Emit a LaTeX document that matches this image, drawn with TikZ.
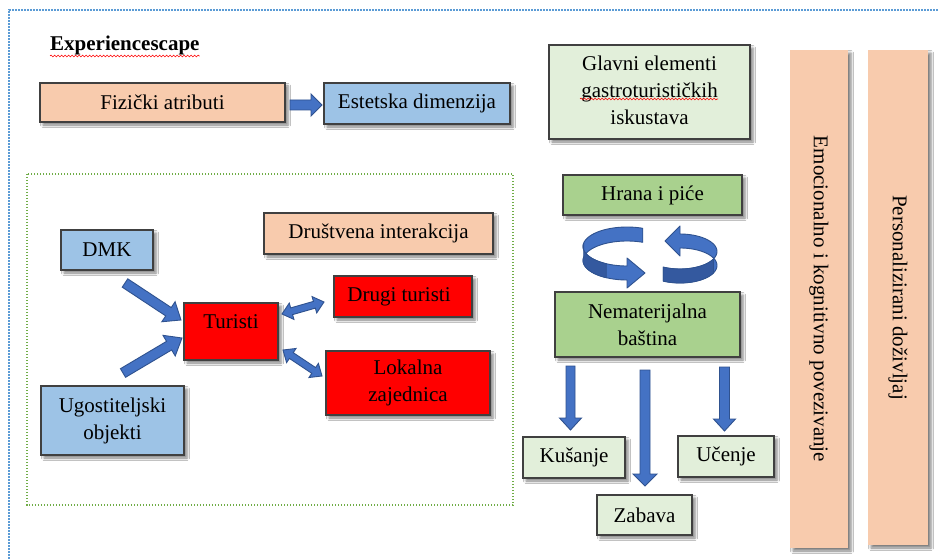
\documentclass[tikz,border=0pt]{standalone}
\usepackage{fontspec}
\setmainfont{Liberation Serif}
\usetikzlibrary{calc,shadows.blur,decorations.pathmorphing}

\definecolor{peach}{HTML}{F8CBAD}
\definecolor{lblue}{HTML}{9DC3E6}
\definecolor{lgreen}{HTML}{E2EFDA}
\definecolor{mgreen}{HTML}{A9D18E}
\definecolor{arrfill}{HTML}{4472C4}
\definecolor{arrline}{HTML}{2F528F}
\definecolor{arrdark}{HTML}{34599F}
\definecolor{boxline}{HTML}{404040}
\definecolor{frameblue}{HTML}{5B9BD5}
\definecolor{framegreen}{HTML}{70AD47}

% block arrow: start, end, shaft half width, head half width, head length
\newcommand\blockarrow[5]{%
  \coordinate (ba-h) at ($(#2)!#5!(#1)$);
  \filldraw[blockarr] ($(#1)!#3!90:(#2)$) -- ($(ba-h)!#3!90:(#2)$) -- ($(ba-h)!#4!90:(#2)$) -- (#2)
    -- ($(ba-h)!#4!-90:(#2)$) -- ($(ba-h)!#3!-90:(#2)$) -- ($(#1)!#3!-90:(#2)$) -- cycle;}
% double block arrow
\newcommand\dblarrow[5]{%
  \coordinate (da-a) at ($(#1)!#5!(#2)$);
  \coordinate (da-b) at ($(#2)!#5!(#1)$);
  \filldraw[blockarr] (#1) -- ($(da-a)!#4!90:(#2)$) -- ($(da-a)!#3!90:(#2)$) -- ($(da-b)!#3!-90:(#1)$)
    -- ($(da-b)!#4!-90:(#1)$) -- (#2) -- ($(da-b)!#4!90:(#1)$) -- ($(da-b)!#3!90:(#1)$)
    -- ($(da-a)!#3!-90:(#2)$) -- ($(da-a)!#4!-90:(#2)$) -- cycle;}

\tikzset{
  fs/.style={font=\rmfamily\fontsize{21}{27}\selectfont},
  base/.style={fs, draw=boxline, line width=1.1pt, inner sep=0pt, align=center,
    blur shadow={shadow xshift=3pt, shadow yshift=-3pt, shadow blur radius=2.5pt, shadow opacity=50}},
  sz/.style 2 args={minimum width=#1pt, minimum height=#2pt},
  peachbox/.style={base, fill=peach},
  bluebox/.style={base, fill=lblue},
  lgreenbox/.style={base, fill=lgreen},
  mgreenbox/.style={base, fill=mgreen},
  redbox/.style={base, fill=red},
  barbox/.style={base, draw=none, fill=peach},
  blockarr/.style={fill=arrfill, draw=arrline, line width=0.9pt, line join=miter},
  ribbon/.style={fill=arrfill, draw=arrline, line width=0.9pt, line join=round},
  ribbondark/.style={fill=arrdark, draw=arrline, line width=0.7pt, line join=round},
  spell/.style={draw=red, line width=0.6pt, decorate, decoration={snake, amplitude=0.9pt, segment length=3.5pt}},
  frameb/.style={draw=frameblue, line width=1.6pt, dash pattern=on 1.6pt off 1.4pt},
  frameg/.style={draw=framegreen, line width=1.4pt, dash pattern=on 1.4pt off 1.6pt},
}

\begin{document}
\begin{tikzpicture}[x=1pt, y=-1pt]
\useasboundingbox (0,0) rectangle (938,559);
\fill[white] (0,0) rectangle (938,559);

% frames
\draw[frameb] (9,559) -- (9,10) -- (938,10);
\draw[frameg] (27,174) rectangle (513,505);

% title
\node[font=\rmfamily\fontsize{21}{27}\selectfont\bfseries, inner sep=0pt, anchor=base west] (title) at (50,51) {Experiencescape};
\draw[spell] ($(title.base west)+(0,5)$) -- ($(title.base east)+(0,5)$);

% top row
\node[peachbox, sz={245}{39}] (fiz) at (162.5,102.5) {Fizički atributi};
\node[bluebox, sz={186}{41}] (est) at (417,103.5) {Estetska dimenzija};
\node[lgreenbox, sz={201}{94}] (glavni) at (649.5,92) {Glavni elementi\\gastroturističkih\\iskustava\rule[-4pt]{0pt}{1pt}};
\coordinate (sp1) at (580,99);
\coordinate (sp2) at (718,99);
\draw[spell] (sp1) -- (sp2);

% bars
\node[barbox, sz={58}{498}] (emo) at (819,299) {};
\node[fs, rotate=-90] (emotxt) at (emo.center) {Emocionalno i kognitivno povezivanje};
\node[barbox, sz={60}{495}] (pers) at (898,297.5) {};
\node[fs, rotate=-90] (perstxt) at (pers.center) {Personalizirani doživljaj};

% right column
\node[mgreenbox, sz={179}{40}] (hrana) at (652.5,195) {Hrana i piće};
\node[mgreenbox, sz={185}{65}] (nem) at (647.5,324.5) {Nematerijalna\\baština};
\node[lgreenbox, sz={102}{41}] (kus) at (574,457.5) {Kušanje};
\node[lgreenbox, sz={95}{40}] (zab) at (644.5,515) {Zabava};
\node[lgreenbox, sz={96}{41}] (uce) at (726,456.5) {Učenje};

% left frame contents
\node[bluebox, sz={92}{40}] (dmk) at (107,250) {DMK};
\node[peachbox, sz={229}{41}] (drus) at (378.5,233.5) {Društvena interakcija};
\node[redbox, sz={94}{57}, label={[fs, anchor=center, yshift=-19pt]north:Turisti}] (tur) at (231,331.5) {};
\node[redbox, sz={138}{41}] (drug) at (403,296.5) {Drugi turisti\hspace{8pt}};
\node[redbox, sz={164}{64}] (lok) at (408,383) {Lokalna\\zajednica};
\node[bluebox, sz={143}{69}] (ugo) at (112.5,420.5) {Ugostiteljski\\objekti};

% arrow end coordinates
\coordinate (fe1) at (290,105);   \coordinate (fe2) at (322,105);
\coordinate (dt1) at (125,283);   \coordinate (dt2) at (181,320);
\coordinate (ut1) at (123,373);   \coordinate (ut2) at (182,338);
\coordinate (td1) at (282,314);   \coordinate (td2) at (324,302);
\coordinate (tl1) at (283,350);   \coordinate (tl2) at (322,376);
\coordinate (nk1) at (570.5,366); \coordinate (nk2) at (570.5,430);
\coordinate (nz1) at (645,370);   \coordinate (nz2) at (645,486);
\coordinate (nu1) at (724.5,367); \coordinate (nu2) at (724.5,431);

\blockarrow{fe1}{fe2}{5pt}{11pt}{11pt}
\blockarrow{dt1}{dt2}{5pt}{12pt}{15pt}
\blockarrow{ut1}{ut2}{5pt}{12pt}{15pt}
\dblarrow{td1}{td2}{3.5pt}{8.5pt}{10pt}
\dblarrow{tl1}{tl2}{3.5pt}{8.5pt}{10pt}
\blockarrow{nk1}{nk2}{4.5pt}{11pt}{12pt}
\blockarrow{nz1}{nz2}{5pt}{12pt}{12pt}
\blockarrow{nu1}{nu2}{5pt}{11pt}{12pt}

% circular arrows (ribbons)
\filldraw[ribbon] plot[domain=291:90, samples=50] ({627+44*cos(\x)}, {253.5+19.5*sin(\x)-7})
  -- (627,258) -- (645,273) -- (627,288)
  -- plot[domain=90:291, samples=50] ({627+44*cos(\x)}, {253.5+19.5*sin(\x)+7}) -- cycle;
\filldraw[ribbondark] plot[domain=190:118, samples=30] ({627+44*cos(\x)}, {253.5+19.5*sin(\x)-7})
  -- plot[domain=118:190, samples=30] ({627+44*cos(\x)}, {253.5+19.5*sin(\x)+7}) -- cycle;

\filldraw[ribbon] plot[domain=117:-90, samples=50] ({680+37*cos(\x)}, {258.5+17.5*sin(\x)-7})
  -- (680,226) -- (665,241) -- (680,256)
  -- plot[domain=-90:117, samples=50] ({680+37*cos(\x)}, {258.5+17.5*sin(\x)+7}) -- cycle;
\filldraw[ribbondark] plot[domain=117:25, samples=30] ({680+37*cos(\x)}, {258.5+17.5*sin(\x)-7})
  -- plot[domain=25:117, samples=30] ({680+37*cos(\x)}, {258.5+17.5*sin(\x)+7}) -- cycle;
\end{tikzpicture}
\end{document}
